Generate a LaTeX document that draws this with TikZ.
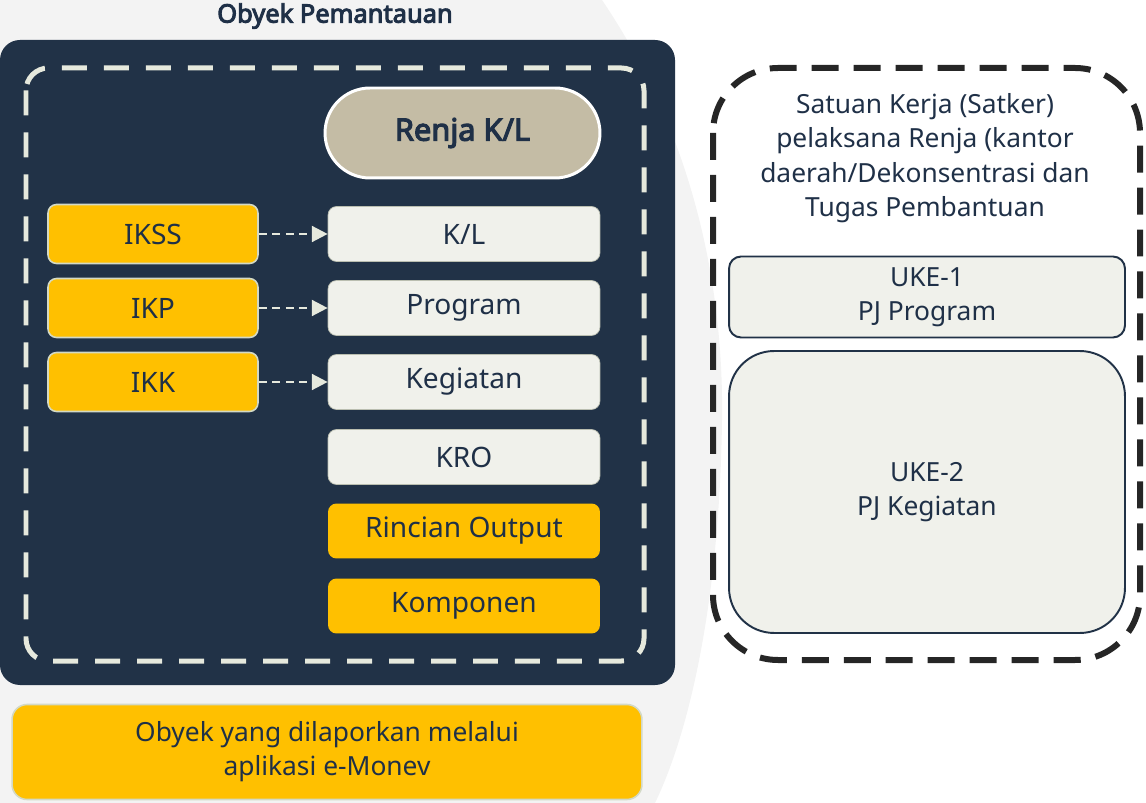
\documentclass[tikz,border=0pt]{standalone}
\usepackage{fontspec}
\setmainfont{Noto Sans}[AutoFakeBold=3.8]
\usetikzlibrary{arrows.meta}
\definecolor{navy}{HTML}{213247}
\definecolor{txt}{HTML}{1F3047}
\definecolor{gold}{HTML}{FFC000}
\definecolor{pale}{HTML}{F0F1EB}
\definecolor{paleedge}{HTML}{D3D9C5}
\definecolor{tan}{HTML}{C4BCA5}
\definecolor{dashlight}{HTML}{E6E9DD}
\definecolor{dashdark}{HTML}{262626}
\definecolor{bggrey}{HTML}{F3F3F3}
\tikzset{
  lbl/.style={font=\fontsize{16}{19}\selectfont, text=txt, align=center},
  goldbox/.style={lbl, rectangle, rounded corners=0.17cm, fill=gold, draw=paleedge, line width=0.9pt, inner sep=0pt},
  golditem/.style={lbl, rectangle, rounded corners=0.17cm, fill=gold, inner sep=0pt, minimum width=5.44cm, minimum height=1.1cm},
  paleitem/.style={lbl, rectangle, rounded corners=0.17cm, fill=pale, draw=paleedge!70!gray, line width=0.4pt, inner sep=0pt, minimum width=5.44cm, minimum height=1.1cm},
  indbox/.style={goldbox, minimum width=4.2cm, minimum height=1.18cm},
  ukebox/.style={lbl, font=\fontsize{15}{19.3}\selectfont, rectangle, fill=pale, draw=navy, line width=1.1pt, inner sep=0pt, minimum width=7.92cm},
  linkarrow/.style={draw=dashlight, line width=1.4pt, dash pattern=on 4.5pt off 3.2pt, -{Triangle[length=9pt, width=9pt, fill=dashlight]}, shorten >=0pt},
}
\begin{document}
\begin{tikzpicture}[x=0.02cm, y=-0.02cm]
\useasboundingbox (0,0) rectangle (1146,803);
% faint background shape
\fill[bggrey] (0,0) -- (602,0) .. controls (690,130) and (724,280) .. (722,420) .. controls (720,580) and (695,720) .. (655,803) -- (0,803) -- cycle;
% title
\node[font=\bfseries\fontsize{14.5}{17}\selectfont, text=txt] (title) at (335,16) {Obyek Pemantauan};
% navy panel
\fill[navy, rounded corners=0.4cm] (0,40) rectangle (675,685);
\draw[dashlight, line width=0.1cm, dash pattern=on 0.5cm off 0.34cm, rounded corners=0.45cm] (26,68) rectangle (644,661);
% Renja
\node[rectangle, rounded corners=0.9cm, fill=tan, draw=white, line width=1.7pt, minimum width=5.5cm, minimum height=1.8cm, font=\bfseries\fontsize{17.5}{20}\selectfont, text=txt] (renja) at (462.5,133) {Renja K/L};
% indicators
\node[indbox] (ikss) at (153,234) {IKSS};
\node[indbox] (ikp) at (153,308) {IKP};
\node[indbox] (ikk) at (153,382) {IKK};
% objects
\node[paleitem] (kl) at (464,234) {K/L};
\node[paleitem] (prog) at (464,308) {Program};
\node[paleitem] (keg) at (464,382) {Kegiatan};
\node[paleitem] (kro) at (464,457) {KRO};
\node[golditem] (rinc) at (464,531) {Rincian Output};
\node[golditem] (komp) at (464,606) {Komponen};
% arrows
\draw[linkarrow] (ikss.east) -- (kl.west);
\draw[linkarrow] (ikp.east) -- (prog.west);
\draw[linkarrow] (ikk.east) -- (keg.west);
% right group
\draw[dashdark, line width=0.12cm, dash pattern=on 0.54cm off 0.3cm, rounded corners=1.3cm] (713,68) rectangle (1140,660);
\node[lbl, font=\fontsize{15}{19.6}\selectfont] (satker) at (925,158) {Satuan Kerja (Satker)\\pelaksana Renja (kantor\\daerah/Dekonsentrasi dan\\Tugas Pembantuan};
\node[ukebox, rounded corners=0.24cm, minimum height=1.62cm] (uke1) at (927,297) {UKE-1\\PJ Program};
\node[ukebox, rounded corners=0.9cm, minimum height=5.64cm] (uke2) at (927,492) {UKE-2\\PJ Kegiatan};
% bottom legend
\node[goldbox, rounded corners=0.3cm, minimum width=12.6cm, minimum height=1.9cm, font=\fontsize{15}{19.3}\selectfont] (legend) at (327,752) {Obyek yang dilaporkan melalui\\aplikasi e-Monev};
\end{tikzpicture}
\end{document}
